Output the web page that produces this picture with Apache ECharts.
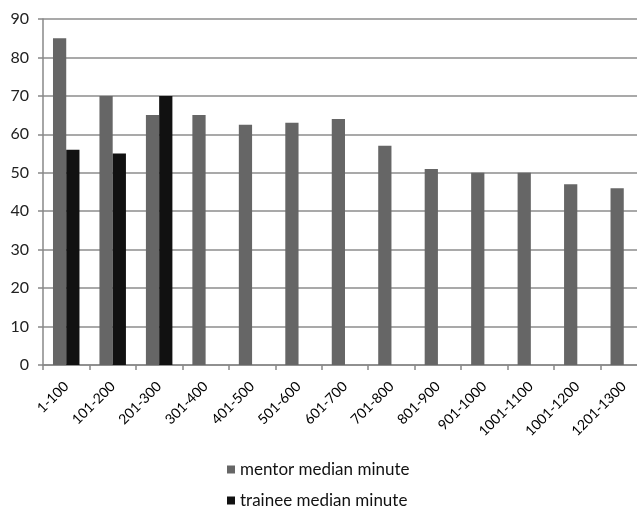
<!DOCTYPE html>
<html>
<head>
<meta charset="utf-8">
<script src="https://cdn.jsdelivr.net/npm/echarts@6/dist/echarts.min.js"></script>
<style>
html,body{margin:0;padding:0;background:#fff;}
#chart{width:637px;height:510px;}
</style>
</head>
<body>
<div id="chart"></div>
<script>
var categories = ['1-100','101-200','201-300','301-400','401-500','501-600','601-700','701-800','801-900','901-1000','1001-1100','1001-1200','1201-1300'];
var mentorValues = [85, 70, 65, 65, 62.5, 63, 64, 57, 51, 50, 50, 47, 46];
var traineeValues = [56, 55, 70, null, null, null, null, null, null, null, null, null, null];
var yTicks = {min: 0, max: 90, interval: 10};
var seriesNames = ['mentor median minute', 'trainee median minute'];

var chart = echarts.init(document.getElementById('chart'), null, {renderer: 'canvas'});
var font = 'Lato, "Open Sans", sans-serif';
function legendFor(name, top) {
  return {
    orient: 'horizontal',
    left: 227,
    top: top,
    padding: 0,
    itemWidth: 8,
    itemHeight: 8,
    itemGap: 10,
    icon: 'rect',
    textStyle: {fontFamily: font, fontSize: 17, color: '#111'},
    data: [name]
  };
}
chart.setOption({
  animation: false,
  backgroundColor: '#ffffff',
  grid: {left: 43, top: 19, right: -10, height: 346, containLabel: false, outerBoundsMode: 'none'},
  legend: [legendFor(seriesNames[0], 461), legendFor(seriesNames[1], 492)],
  xAxis: {
    type: 'category',
    data: categories,
    axisLine: {lineStyle: {color: '#888', width: 1.5}},
    axisTick: {show: true, length: 5, lineStyle: {color: '#888', width: 1.5}},
    axisLabel: {rotate: 45, margin: 19, interval: 0, fontFamily: font, fontSize: 14, color: '#000'},
    splitLine: {show: false}
  },
  yAxis: {
    type: 'value',
    min: yTicks.min,
    max: yTicks.max,
    interval: yTicks.interval,
    axisLine: {show: true, lineStyle: {color: '#888', width: 1.5}},
    axisTick: {show: true, length: 5, lineStyle: {color: '#888', width: 1.5}},
    axisLabel: {margin: 14, fontFamily: font, fontSize: 16, color: '#222'},
    splitLine: {show: true, lineStyle: {color: '#8c8c8c', width: 1.5}}
  },
  series: [
    {name: seriesNames[0], type: 'bar', data: mentorValues, itemStyle: {color: '#666666'}, barGap: '0%', barCategoryGap: '43%'},
    {name: seriesNames[1], type: 'bar', data: traineeValues, itemStyle: {color: '#111111'}}
  ]
});
</script>
</body>
</html>
